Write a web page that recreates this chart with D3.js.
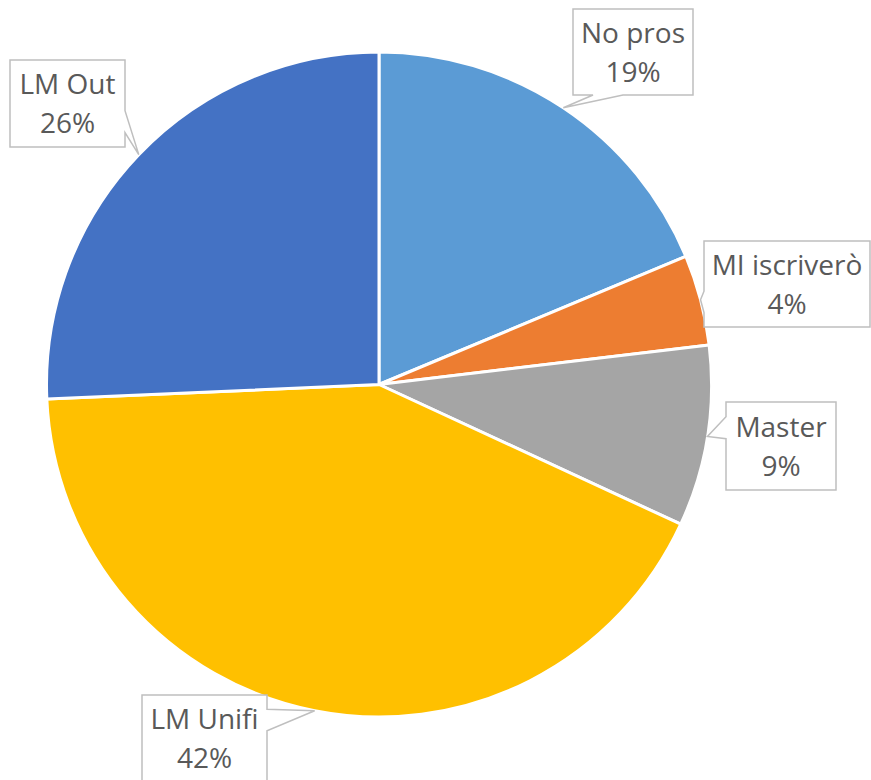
<!DOCTYPE html>
<html>
<head>
<meta charset="utf-8">
<script src="https://cdn.jsdelivr.net/npm/d3@7"></script>
<style>
  body { margin: 0; background: #fff; }
</style>
</head>
<body>
<div id="chart"></div>
<script>
const categories = ["No pros", "MI iscriverò", "Master", "LM Unifi", "LM Out"];
const values = [18.7, 4.4, 8.8, 42.4, 25.7];
const colors = ["#5B9BD5", "#ED7D31", "#A5A5A5", "#FFC000", "#4472C4"];

// callout boxes: [left, top, width, height]
const labelBoxes = [
  [573, 9, 120, 86],
  [704, 241, 166, 86],
  [726, 402, 110, 88],
  [142, 695, 125, 86],
  [10, 60, 115, 87]
];

const width = 871;
const height = 780;
const cx = 379;
const cy = 384.5;
const radius = 332.5;

const svg = d3
  .select("#chart")
  .append("svg")
  .attr("width", width)
  .attr("height", height);

const total = d3.sum(values);
const pie = d3.pie().sort(null).value(d => d.value);
const arcs = pie(categories.map((c, i) => ({ name: c, value: values[i], i })));

const arc = d3.arc().innerRadius(0).outerRadius(radius);

const g = svg.append("g").attr("transform", `translate(${cx},${cy})`);

g.selectAll("path.slice")
  .data(arcs)
  .enter()
  .append("path")
  .attr("class", "slice")
  .attr("d", arc)
  .style("fill", d => colors[d.data.i])
  .style("stroke", "#fff")
  .style("stroke-width", 3)
  .style("stroke-linejoin", "round");

// wedge callout like the office preset shape
const calloutPath = (x, y, w, h, tx, ty) => {
  const dxPos = tx - (x + w / 2);
  const dyPos = ty - (y + h / 2);
  const horiz = Math.abs((dxPos * h) / w) > Math.abs(dyPos);
  const x1 = x + (w * (dxPos > 0 ? 7 : 2)) / 12;
  const x2 = x + (w * (dxPos > 0 ? 10 : 5)) / 12;
  const y1 = y + (h * (dyPos > 0 ? 7 : 2)) / 12;
  const y2 = y + (h * (dyPos > 0 ? 10 : 5)) / 12;
  const p = d3.path();
  p.moveTo(x, y);
  if (!horiz && dyPos < 0) {
    p.lineTo(x1, y);
    p.lineTo(tx, ty);
    p.lineTo(x2, y);
  }
  p.lineTo(x + w, y);
  if (horiz && dxPos > 0) {
    p.lineTo(x + w, y1);
    p.lineTo(tx, ty);
    p.lineTo(x + w, y2);
  }
  p.lineTo(x + w, y + h);
  if (!horiz && dyPos > 0) {
    p.lineTo(x2, y + h);
    p.lineTo(tx, ty);
    p.lineTo(x1, y + h);
  }
  p.lineTo(x, y + h);
  if (horiz && dxPos < 0) {
    p.lineTo(x, y2);
    p.lineTo(tx, ty);
    p.lineTo(x, y1);
  }
  p.closePath();
  return p.toString();
};

const labels = svg
  .selectAll("g.label")
  .data(arcs)
  .enter()
  .append("g")
  .attr("class", "label");

labels
  .append("path")
  .attr("d", d => {
    const [bx, by, bw, bh] = labelBoxes[d.data.i];
    const mid = (d.startAngle + d.endAngle) / 2;
    const tx = cx + radius * Math.sin(mid);
    const ty = cy - radius * Math.cos(mid);
    return calloutPath(bx, by, bw, bh, tx, ty);
  })
  .style("fill", "#fff")
  .style("stroke", "#BFBFBF")
  .style("stroke-width", 1.5);

const text = labels
  .append("text")
  .attr("text-anchor", "middle")
  .style("font-family", "'Open Sans', sans-serif")
  .style("font-size", "28px")
  .style("fill", "#595959");

text
  .append("tspan")
  .attr("x", d => labelBoxes[d.data.i][0] + labelBoxes[d.data.i][2] / 2)
  .attr("y", d => labelBoxes[d.data.i][1] + labelBoxes[d.data.i][3] / 2 - 9.5)
  .text(d => d.data.name);

text
  .append("tspan")
  .attr("x", d => labelBoxes[d.data.i][0] + labelBoxes[d.data.i][2] / 2)
  .attr("y", d => labelBoxes[d.data.i][1] + labelBoxes[d.data.i][3] / 2 + 29.5)
  .text(d => Math.round((d.data.value / total) * 100) + "%");
</script>
</body>
</html>
